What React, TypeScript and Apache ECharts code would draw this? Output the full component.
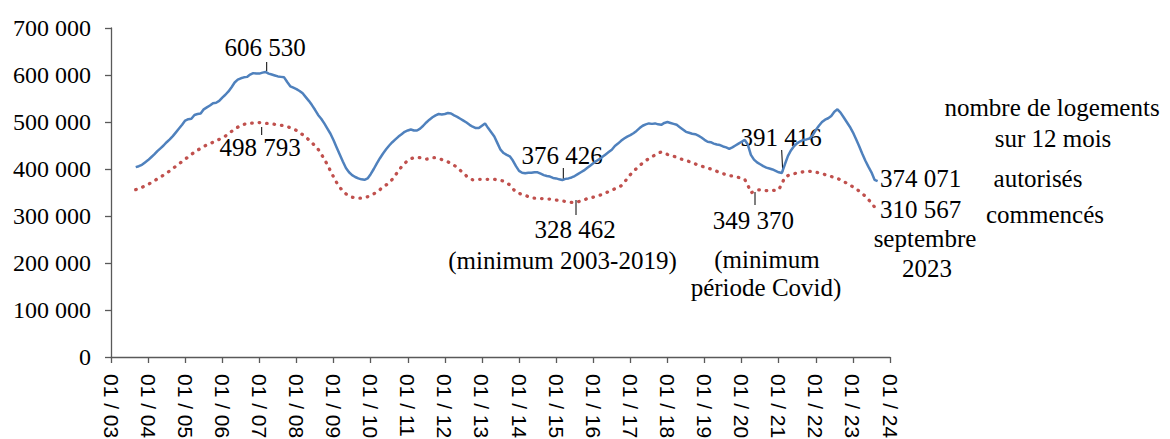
import React, { useEffect, useRef } from "react";
import * as echarts from "echarts";

// Monthly categories from January 2003 to January 2024
const firstYear = 2003;
const lastYear = 2024;
// First data month: September 2003 (index 8), last: September 2023
const firstDataIndex = 8;

// Logements autorisés sur 12 mois (milliers), sept. 2003 -> sept. 2023
const autorises2003 = [404, 406, 409, 414];
const autorises2004 = [419, 425, 431, 438, 444, 450, 457, 463, 470, 478, 486, 494];
const autorises2005 = [503, 506, 507, 515, 517, 518, 527, 531, 535, 540, 541, 545];
const autorises2006 = [552, 558, 565, 574, 584, 590, 593, 595, 596, 601, 604, 603];
const autorises2007 = [603, 605, 606.53, 603, 601, 599, 597, 596, 595, 585, 576, 573];
const autorises2008 = [570, 566, 561, 553, 545, 536, 526, 515, 507, 497, 486, 475];
const autorises2009 = [461, 446, 431, 416, 402, 393, 387, 383, 380, 378, 377, 380];
const autorises2010 = [389, 400, 412, 423, 433, 442, 450, 457, 463, 469, 474, 479];
const autorises2011 = [482, 484, 482, 482, 486, 492, 499, 505, 510, 514, 517, 516];
const autorises2012 = [517, 519, 518, 514, 511, 507, 503, 499, 494, 490, 487, 487];
const autorises2013 = [492, 497, 487, 478, 469, 455, 441, 434, 430, 427, 418, 406];
const autorises2014 = [396, 392, 391, 392, 392, 393, 393, 390, 387, 385, 384, 381];
const autorises2015 = [380, 378, 376.426, 379, 380, 382, 385, 389, 393, 397, 402, 407];
const autorises2016 = [412, 417, 421, 426, 431, 436, 441, 449, 454, 460, 465, 469];
const autorises2017 = [472, 476, 481, 487, 492, 495, 497, 496, 497, 495, 494, 498];
const autorises2018 = [500, 498, 496, 494, 489, 484, 479, 477, 475, 474, 471, 467];
const autorises2019 = [462, 458, 457, 454, 452, 451, 448, 446, 443, 446, 450, 454];
const autorises2020 = [458, 462, 452, 430, 420, 414, 410, 406, 403, 401, 399, 396];
const autorises2021 = [393, 391.416, 410, 428, 440, 449, 455, 459, 462, 463, 465, 472];
const autorises2022 = [483, 492, 500, 505, 508, 513, 522, 527, 520, 510, 500, 490];
const autorises2023 = [478, 464, 449, 433, 418, 405, 393, 377, 374.071];

// Logements commencés sur 12 mois (milliers)
const commences2003 = [356, 358, 361, 364];
const commences2004 = [367, 371, 375, 379, 383, 387, 391, 396, 401, 406, 411, 416];
const commences2005 = [421, 426, 431, 436, 440, 444, 448, 451, 454, 457, 460, 463];
const commences2006 = [466, 470, 475, 480, 485, 489, 493, 495, 497, 497, 498, 498];
const commences2007 = [498.793, 498, 497, 497, 496, 495, 494, 493, 492, 490, 488, 485];
const commences2008 = [482, 478, 473, 468, 462, 456, 449, 442, 432, 421, 409, 396];
const commences2009 = [383, 371, 361, 353, 347, 343, 340, 339, 338, 338, 339, 341];
const commences2010 = [344, 347, 351, 356, 362, 366, 371, 378, 387, 396, 405, 412];
const commences2011 = [418, 422, 424, 425, 424, 422, 421, 422, 424, 424, 422, 420];
const commences2012 = [418, 415, 412, 408, 403, 397, 391, 385, 380, 377, 377, 378];
const commences2013 = [378, 378, 378, 378, 378, 377, 376, 374, 371, 366, 358, 351];
const commences2014 = [348, 346, 344, 341, 339, 338, 338, 337, 337, 336, 336, 335];
const commences2015 = [334, 333, 332, 331, 330, 329, 328.462, 330, 332, 334, 337, 339];
const commences2016 = [340, 342, 344, 346, 349, 352, 355, 358, 361, 364, 371, 380];
const commences2017 = [388, 395, 401, 407, 413, 418, 422, 426, 430, 434, 436, 434];
const commences2018 = [431, 429, 427, 425, 422, 420, 418, 416, 414, 411, 408, 406];
const commences2019 = [404, 402, 400, 398, 395, 392, 390, 388, 386, 385, 383, 382];
const commences2020 = [380, 378, 366, 349.37, 352, 355, 356, 355, 354, 355, 355, 354];
const commences2021 = [356, 368, 383, 386, 388, 390, 392, 393, 394, 395, 395, 394];
const commences2022 = [393, 392, 390, 388, 386, 384, 382, 380, 377, 373, 370, 366];
const commences2023 = [362, 358, 353, 348, 342, 335, 328, 319, 310.567];

const yTicks = [0, 100000, 200000, 300000, 400000, 500000, 600000, 700000];

const autorises = [
  autorises2003, autorises2004, autorises2005, autorises2006, autorises2007,
  autorises2008, autorises2009, autorises2010, autorises2011, autorises2012,
  autorises2013, autorises2014, autorises2015, autorises2016, autorises2017,
  autorises2018, autorises2019, autorises2020, autorises2021, autorises2022,
  autorises2023,
].flat();
const commences = [
  commences2003, commences2004, commences2005, commences2006, commences2007,
  commences2008, commences2009, commences2010, commences2011, commences2012,
  commences2013, commences2014, commences2015, commences2016, commences2017,
  commences2018, commences2019, commences2020, commences2021, commences2022,
  commences2023,
].flat();

const categories: string[] = [];
for (let y = firstYear; y <= lastYear; y++) {
  for (let m = 1; m <= 12; m++) {
    if (y === lastYear && m > 1) break;
    categories.push(`${String(m).padStart(2, "0")}/${String(y).slice(2)}`);
  }
}

function pad(values: number[]) {
  const out: (number | null)[] = [];
  for (let i = 0; i < categories.length; i++) {
    const k = i - firstDataIndex;
    out.push(k >= 0 && k < values.length ? Math.round(values[k] * 1000) : null);
  }
  return out;
}

function fmt(v: number) {
  const s = String(Math.round(v));
  return s.replace(/\B(?=(\d{3})+(?!\d))/g, " ");
}

const SERIF = '"Liberation Serif", "DejaVu Serif", serif';
const AXIS_COLOR = "#595959";

function txt(text: string, x: number, y: number, align = "center") {
  return {
    type: "text",
    x,
    y,
    silent: true,
    style: {
      text,
      fill: "#000",
      font: `25px ${SERIF}`,
      align,
      verticalAlign: "middle",
      textAlign: align,
      textVerticalAlign: "middle",
    },
  };
}
function tick(x1: number, y1: number, x2: number, y2: number) {
  return {
    type: "line",
    silent: true,
    shape: { x1, y1, x2, y2 },
    style: { stroke: "#000", lineWidth: 1 },
  };
}

export default function App() {
  const ref = useRef<HTMLDivElement>(null);
  useEffect(() => {
    if (!ref.current) return;
    const chart = echarts.init(ref.current, undefined, { renderer: "svg" });
    const aData = pad(autorises);
    const cData = pad(commences);
    const peakA = Math.max(...autorises) * 1000;
    const peakC = Math.max(...commences) * 1000;
    const minA0319 = autorises[146 - firstDataIndex] * 1000;
    const minC0319 = commences[150 - firstDataIndex] * 1000;
    const minACovid = autorises[217 - firstDataIndex] * 1000;
    const minCCovid = commences[207 - firstDataIndex] * 1000;
    const lastA = autorises[autorises.length - 1] * 1000;
    const lastC = commences[commences.length - 1] * 1000;
    const isJan = (i: number) => i % 12 === 0;
    chart.setOption({
      animation: false,
      backgroundColor: "#fff",
      grid: { left: 111, top: 28, width: 779, height: 329, containLabel: false, outerBoundsMode: "none" },
      xAxis: {
        type: "category",
        data: categories,
        boundaryGap: false,
        axisLine: { show: true, lineStyle: { color: AXIS_COLOR, width: 1.3 } },
        axisTick: { show: true, interval: isJan, length: 6, lineStyle: { color: AXIS_COLOR, width: 1.3 } },
        axisLabel: {
          interval: isJan,
          rotate: -90,
          margin: 17,
          color: "#000",
          fontFamily: '"Liberation Sans", Arial, sans-serif',
          fontSize: 21,
          formatter: (v: string) => v.replace("/", " / "),
        },
        splitLine: { show: false },
      },
      yAxis: {
        type: "value",
        min: 0,
        max: yTicks[yTicks.length - 1],
        interval: yTicks[1] - yTicks[0],
        axisLine: { show: true, lineStyle: { color: AXIS_COLOR, width: 1.3 } },
        axisTick: { show: true, length: 6, lineStyle: { color: AXIS_COLOR, width: 1.3 } },
        splitLine: { show: false },
        axisLabel: {
          margin: 20,
          color: "#000",
          fontFamily: SERIF,
          fontSize: 24,
          formatter: (v: number) => fmt(v),
        },
      },
      series: [
        {
          name: "autorisés",
          type: "line",
          data: aData,
          showSymbol: false,
          connectNulls: false,
          lineStyle: { color: "#4F81BD", width: 2.5 },
          z: 3,
        },
        {
          name: "commencés",
          type: "line",
          data: cData,
          showSymbol: false,
          connectNulls: false,
          lineStyle: { color: "#C0504D", width: 3.3, type: [0.5, 7], cap: "round" },
          z: 2,
        },
      ],
      graphic: [
        txt(fmt(peakA), 265, 47),
        tick(266.7, 62, 266.7, 71),
        txt(fmt(peakC), 260, 147),
        tick(261.7, 127, 261.7, 135),
        txt(fmt(minA0319), 562, 155),
        tick(563.3, 168, 563.3, 180),
        txt(fmt(minC0319), 575, 229),
        tick(576, 200, 576, 215),
        txt("(minimum 2003-2019)", 562.5, 260),
        txt(fmt(minACovid), 781, 137),
        tick(781.7, 150, 782.7, 172),
        txt(fmt(minCCovid), 753.3, 220),
        tick(755, 192, 755, 205),
        txt("(minimum", 767, 259),
        txt("période Covid)", 766, 287),
        txt(fmt(lastA), 880, 178, "left"),
        txt(fmt(lastC), 880, 209, "left"),
        txt("septembre", 925, 238),
        txt("2023", 927, 268),
        txt("nombre de logements", 1052, 107),
        txt("sur 12 mois", 1053, 138),
        txt("autorisés", 1038, 178),
        txt("commencés", 1045, 214),
      ],
    });
    return () => chart.dispose();
  }, []);
  return (
    <div
      ref={ref}
      style={{ position: "fixed", left: 0, top: 0, width: 1170, height: 439, background: "#fff" }}
    />
  );
}
